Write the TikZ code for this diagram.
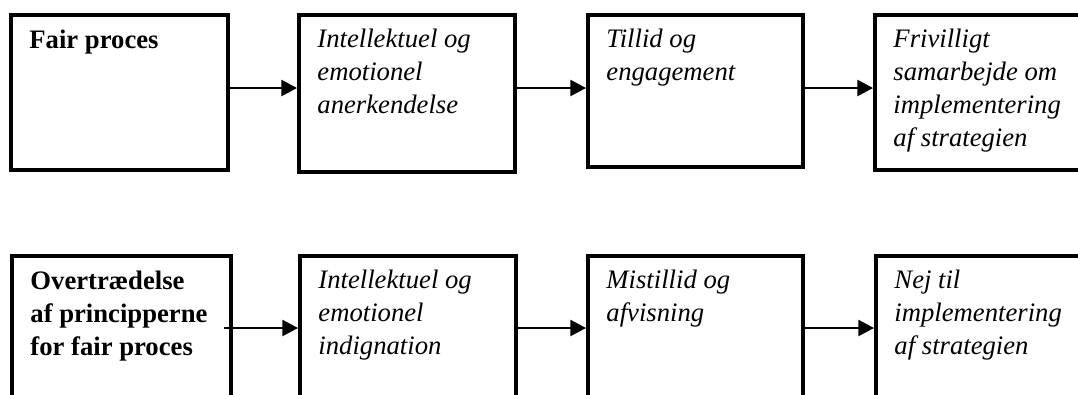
\documentclass[tikz,border=0pt]{standalone}
\usepackage{fontspec}
\setmainfont{Liberation Serif}
\usetikzlibrary{arrows.meta,fit,calc}
\tikzset{
  box/.style={draw, line width=1.8pt, inner sep=0pt},
  lbl/.style={anchor=north west, inner sep=0pt, align=left,
              font=\fontsize{12pt}{14.8pt}\selectfont},
  head/.style={lbl, font=\fontsize{12pt}{14.8pt}\selectfont\bfseries},
  step txt/.style={lbl, font=\fontsize{12pt}{14.8pt}\selectfont\itshape},
  conn/.style={line width=0.9pt, -{Triangle[length=7pt,width=7.2pt]}},
}
\begin{document}
\begin{tikzpicture}[x=0.45pt,y=-0.45pt]
\useasboundingbox (0,0) rectangle (1078,394);
\clip (0,0) rectangle (1078,394);

% arrow heights of the two rows
\coordinate (ytop) at (0,88);
\coordinate (ybot) at (0,328);

% upper row: fair process
\node[box, fit={(11,15) (228,170)}] (t1) {};
\node[box, fit={(299,15) (515,172)}] (t2) {};
\node[box, fit={(588,15) (803,167)}] (t3) {};
\node[box, fit={(875,15) (1100,170)}] (t4) {};

\node[head] (t1l) at ([shift={(20,12)}]t1.north west) {\strut Fair proces};
\node[step txt] (t2l) at ([shift={(20,11)}]t2.north west) {\strut Intellektuel og\\emotionel\\anerkendelse};
\node[step txt] (t3l) at ([shift={(20,11)}]t3.north west) {\strut Tillid og\\engagement};
\node[step txt] (t4l) at ([shift={(20,11)}]t4.north west) {\strut Frivilligt\\samarbejde om\\implementering\\af strategien};

\draw[conn] (t1.east |- ytop) -- (t2.west |- ytop);
\draw[conn] (t2.east |- ytop) -- (t3.west |- ytop);
\draw[conn] (t3.east |- ytop) -- (t4.west |- ytop);

% lower row: violation of fair process
\node[box, fit={(12,256) (231,430)}] (b1) {};
\node[box, fit={(300,256) (516,430)}] (b2) {};
\node[box, fit={(588,256) (803,430)}] (b3) {};
\node[box, fit={(876,256) (1100,430)}] (b4) {};

\node[head] (b1l) at ([shift={(20,12)}]b1.north west) {\strut Overtrædelse\\af principperne\\for fair proces};
\node[step txt] (b2l) at ([shift={(20,11)}]b2.north west) {\strut Intellektuel og\\emotionel\\indignation};
\node[step txt] (b3l) at ([shift={(20,11)}]b3.north west) {\strut Mistillid og\\afvisning};
\node[step txt] (b4l) at ([shift={(20,11)}]b4.north west) {\strut Nej til\\implementering\\af strategien};

\draw[conn] ([xshift=-4]b1.east |- ybot) -- (b2.west |- ybot);
\draw[conn] (b2.east |- ybot) -- (b3.west |- ybot);
\draw[conn] (b3.east |- ybot) -- (b4.west |- ybot);
\end{tikzpicture}
\end{document}
